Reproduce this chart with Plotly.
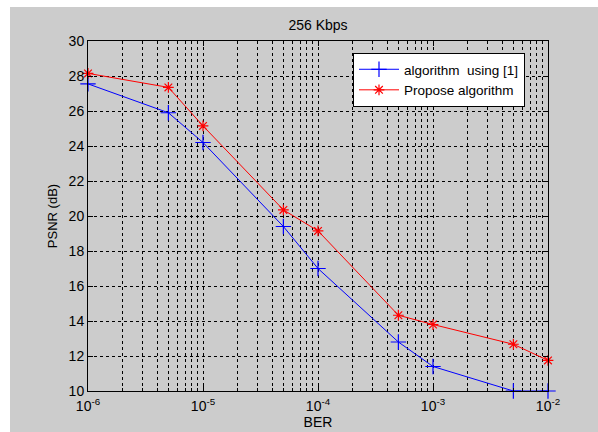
import plotly.graph_objects as go

ber = [1e-6, 5e-6, 1e-5, 5e-5, 1e-4, 5e-4, 1e-3, 5e-3, 1e-2]
psnr_ref = [27.55, 25.9, 24.2, 19.4, 17.0, 12.8, 11.4, 10.0, 10.0]
psnr_prop = [28.15, 27.35, 25.15, 20.35, 19.15, 14.33, 13.8, 12.67, 11.75]
x_tickvals = [1e-6, 1e-5, 1e-4, 1e-3, 1e-2]
x_ticktext = ["10<sup>-6</sup>", "10<sup>-5</sup>", "10<sup>-4</sup>", "10<sup>-3</sup>", "10<sup>-2</sup>"]
y_tickvals = [10, 12, 14, 16, 18, 20, 22, 24, 26, 28, 30]

FONT = "Liberation Sans, Arial, sans-serif"
W, H = 598, 432
L, R, T, B = 88, 50, 41, 41
pw, ph = W - L - R, H - T - B

fig = go.Figure()
fig.add_trace(go.Scatter(
    x=ber, y=psnr_ref, mode="lines+markers", name="algorithm  using [1]",
    line=dict(color="#0000ff", width=1),
    marker=dict(symbol="cross-thin", size=11, line=dict(color="#0000ff", width=1.2)),
    cliponaxis=False,
))
fig.add_trace(go.Scatter(
    x=ber, y=psnr_prop, mode="lines+markers", name="Propose algorithm",
    line=dict(color="#ff0000", width=1),
    marker=dict(symbol="asterisk-open", size=9, line=dict(color="#ff0000", width=1.2)),
    cliponaxis=False,
))

# gray figure background (with white strip at top/left)
fig.add_shape(type="rect", xref="paper", yref="paper", layer="below",
              x0=(10 - L) / pw, x1=(W - L) / pw + 0.01,
              y0=-(B + 2) / ph, y1=(H - B - 7) / ph,
              fillcolor="#cccccc", line=dict(width=0))

fig.update_layout(
    width=W, height=H,
    margin=dict(l=L, r=R, t=T, b=B, autoexpand=False),
    paper_bgcolor="white", plot_bgcolor="white",
    font=dict(family=FONT, size=13, color="black"),
    title=dict(text="256 Kbps", x=0.5, xref="paper", xanchor="center",
               y=1 - 25 / H, yref="container", yanchor="middle",
               font=dict(size=14)),
    showlegend=True,
    legend=dict(x=(353 - L) / pw, y=(H - B - 53) / ph, xanchor="left", yanchor="top",
                bgcolor="white", bordercolor="black", borderwidth=1,
                font=dict(size=13.5), tracegroupgap=0, itemwidth=40),
)

GD = "3px,3px"
fig.update_xaxes(
    type="log", range=[-6.000001, -1.999999], tickvals=x_tickvals, ticktext=x_ticktext,
    showline=True, linecolor="black", linewidth=1, mirror="ticks",
    ticks="inside", ticklen=5, tickcolor="black", ticklabelstandoff=2,
    showgrid=True, gridcolor="black", griddash=GD, gridwidth=1,
    minor=dict(showgrid=True, gridcolor="black", griddash=GD, gridwidth=1,
               ticks="inside", ticklen=3, tickcolor="black", dtick="D1"),
    zeroline=False, tickfont=dict(size=14), automargin=False,
    title=dict(text="BER", font=dict(size=14), standoff=0),
)
fig.update_yaxes(
    range=[10, 30], tickvals=y_tickvals,
    showline=True, linecolor="black", linewidth=1, mirror="ticks",
    ticks="inside", ticklen=5, tickcolor="black",
    showgrid=True, gridcolor="black", griddash=GD, gridwidth=1,
    zeroline=False, tickfont=dict(size=14), automargin=False,
    title=dict(text="PSNR (dB)", font=dict(size=13), standoff=8),
)

fig.write_html("out.html", config={"displayModeBar": False},
               post_script="document.body.style.margin='0';")
